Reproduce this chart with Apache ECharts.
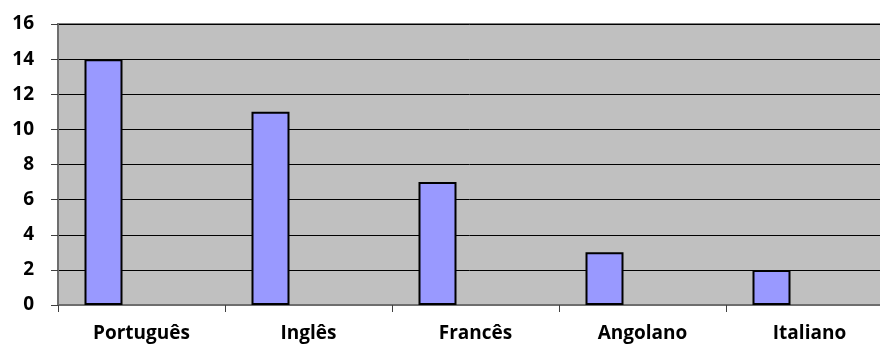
<!DOCTYPE html>
<html>
<head>
<meta charset="utf-8">
<script src="https://cdn.jsdelivr.net/npm/echarts@6/dist/echarts.min.js"></script>
<style>
  html, body { margin: 0; padding: 0; background: #ffffff; overflow: hidden; }
  #chart { width: 880px; height: 345px; }
</style>
</head>
<body>
<div id="chart"></div>
<script>
// Languages and number of speakers
const categories = ['Português', 'Inglês', 'Francês', 'Angolano', 'Italiano'];
const speakers = [14, 11, 7, 3, 2];
// Two further columns of the sheet are blank; they still take their slot in each group
const blankColumnA = [null, null, null, null, null];
const blankColumnB = [null, null, null, null, null];
const yTicks = { min: 0, max: 16, interval: 2 };

const labelFont = { fontFamily: '"Open Sans", sans-serif', fontWeight: 'bold', fontSize: 19, color: '#000000' };

const chart = echarts.init(document.getElementById('chart'), null, { renderer: 'canvas' });
chart.setOption({
  animation: false,
  backgroundColor: '#ffffff',
  grid: {
    // the plot runs slightly past the right edge of the canvas
    left: 58, top: 24, right: -13, bottom: 40,
    outerBoundsMode: 'none',
    containLabel: false,
    show: true,
    backgroundColor: '#C0C0C0',
    borderColor: '#808080',
    borderWidth: 2
  },
  xAxis: {
    type: 'category',
    data: categories,
    boundaryGap: true,
    axisLine: { show: true, lineStyle: { color: '#6e6e6e', width: 2 } },
    axisTick: { show: true, length: 7, inside: false, lineStyle: { color: '#404040', width: 1 } },
    axisLabel: Object.assign({ margin: 19, interval: 0 }, labelFont),
    splitLine: { show: false }
  },
  yAxis: {
    type: 'value',
    min: yTicks.min,
    max: yTicks.max,
    interval: yTicks.interval,
    axisLine: { show: true, lineStyle: { color: '#6e6e6e', width: 2 } },
    axisTick: { show: true, length: 7, lineStyle: { color: '#404040', width: 1 } },
    axisLabel: Object.assign({ margin: 24 }, labelFont),
    splitLine: { show: true, lineStyle: { color: '#000000', width: 1 } }
  },
  series: [
    {
      type: 'bar',
      data: speakers,
      barWidth: 38,
      barGap: '0%',
      itemStyle: { color: '#9999FF', borderColor: '#000000', borderWidth: 2 }
    },
    { type: 'bar', data: blankColumnA, barWidth: 38, barGap: '0%' },
    { type: 'bar', data: blankColumnB, barWidth: 38, barGap: '0%' }
  ]
});
</script>
</body>
</html>
